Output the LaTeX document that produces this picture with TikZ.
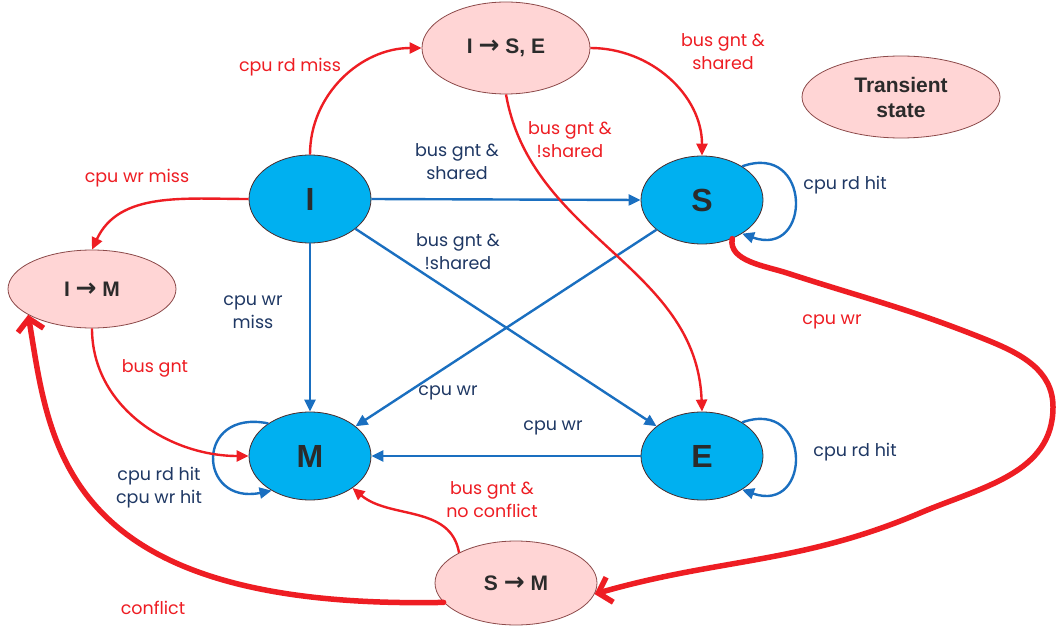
\documentclass[tikz,border=0pt]{standalone}
\usepackage{fontspec}
\setmainfont{Liberation Sans}
\newfontfamily\labelfont{Poppins}
\newfontfamily\symfont{DejaVu Sans}
\usetikzlibrary{arrows.meta,shapes.geometric}

\definecolor{stateblue}{HTML}{00B0F0}
\definecolor{stateedge}{HTML}{4A2A2A}
\definecolor{linkblue}{HTML}{1A6FC0}
\definecolor{navytext}{HTML}{1F3864}
\definecolor{busred}{HTML}{EE1D23}
\definecolor{transpink}{HTML}{FFD5D5}
\definecolor{pinkedge}{HTML}{8C4A4A}
\definecolor{nodetext}{HTML}{2B2B2B}

\newcommand{\goesto}{{\symfont\bfseries\fontsize{25}{25}\selectfont →}}

\tikzset{
  stable/.style={ellipse, draw=stateedge, line width=0.8pt, fill=stateblue,
    inner sep=0pt, minimum width=122pt, minimum height=88pt,
    font=\fontsize{32}{32}\selectfont\bfseries, text=nodetext},
  transient/.style={ellipse, draw=pinkedge, line width=0.8pt, fill=transpink,
    inner sep=0pt, align=center,
    font=\fontsize{21}{25}\selectfont\bfseries, text=nodetext},
  bluelink/.style={draw=linkblue, line width=2.4pt,
    -{Triangle[length=12pt,width=11pt]}},
  redlink/.style={draw=busred, line width=2.4pt,
    -{Triangle[length=12pt,width=11pt]}},
  heavylink/.style={draw=busred, line width=5.5pt, line cap=round,
    -{Straight Barb[length=12pt,width=26pt]}},
  lblred/.style={text=busred, align=center,
    font=\labelfont\fontsize{17.5}{23}\selectfont},
  lblnavy/.style={text=navytext, align=center,
    font=\labelfont\fontsize{17.5}{23}\selectfont},
}

\begin{document}
\begin{tikzpicture}[x=1pt,y=1pt]
\useasboundingbox (0,0) rectangle (1057,625);
\fill[white] (0,0) rectangle (1057,625);

% stable states
\node[stable] (I) at (310,426) {I};
\node[stable] (S) at (702,425) {S};
\node[stable] (M) at (310,169) {M};
\node[stable] (E) at (702,169) {E};

% transient states and legend
\node[transient, minimum width=168pt, minimum height=92pt] (ISE) at (506,577) {I \goesto{} S, E};
\node[transient, minimum width=198pt, minimum height=82pt] (legend) at (901,528) {Transient\\state};
\node[transient, minimum width=168pt, minimum height=78pt] (IM) at (92,336) {I \goesto{} M};
\node[transient, minimum width=162pt, minimum height=84pt] (SM) at (516,42) {S \goesto{} M};

% transitions between stable states
\draw[bluelink] (I.east) -- (S.west);
\draw[bluelink] (I.south) -- (M.north);
\draw[bluelink] (I) -- (E);
\draw[bluelink] (S) -- (M);
\draw[bluelink] (E.west) -- (M.east);

% self loops
\draw[bluelink] (S.40) .. controls +(70,25) and +(70,-25) .. (S.-40);
\draw[bluelink] (E.40) .. controls +(70,25) and +(70,-25) .. (E.-40);
\draw[bluelink] (M.142) .. controls +(-74,15) and +(-74,-15) .. (M.-138);

% transitions through transient states
\draw[redlink] (I.north) to[out=90,in=180] (ISE.west);
\draw[redlink] (ISE.east) to[out=0,in=90] (S.north);
\draw[redlink] (ISE.south) to[out=-80,in=92] (E.north);
\draw[redlink] (I.west) to[out=180,in=65] (IM.north);
\draw[redlink] (IM.south) to[out=-90,in=180] (M.west);
\draw[redlink] (SM.152) to[out=100,in=-40] (M.-37);

% upgrade request and conflict
\draw[heavylink] (S.-52) to[out=-100,in=162,looseness=0.9] (787,352)
  to[out=-18,in=158] (987,285) to[out=-22,in=90] (1053,218)
  to[out=-90,in=23] (920,112) to[out=203,in=16] (SM.-8);
\draw[heavylink] (SM.195) .. controls (60,15) and (50,180) .. (IM.202);

% labels
\node[lblred] (l1) at (290,558) {cpu rd miss};
\node[lblred] (l2) at (723,573) {bus gnt \&\\shared};
\node[lblred] (l3) at (570,485) {bus gnt \&\\!shared};
\node[lblnavy] (l4) at (457,463) {bus gnt \&\\shared};
\node[lblnavy] (l5) at (845,440) {cpu rd hit};
\node[lblred] (l6) at (137,447) {cpu wr miss};
\node[lblnavy] (l7) at (458,373) {bus gnt \&\\!shared};
\node[lblnavy] (l8) at (253,313) {cpu wr\\miss};
\node[lblred] (l9) at (155,257) {bus gnt};
\node[lblred] (l10) at (832,303) {cpu wr};
\node[lblnavy] (l11) at (448,232) {cpu wr};
\node[lblnavy] (l12) at (553,197) {cpu wr};
\node[lblnavy] (l13) at (855,173) {cpu rd hit};
\node[lblnavy] (l14) at (159,137) {cpu rd hit\\cpu wr hit};
\node[lblred] (l15) at (492,125) {bus gnt \&\\no conflict};
\node[lblred] (l16) at (153,17) {conflict};
\end{tikzpicture}
\end{document}
